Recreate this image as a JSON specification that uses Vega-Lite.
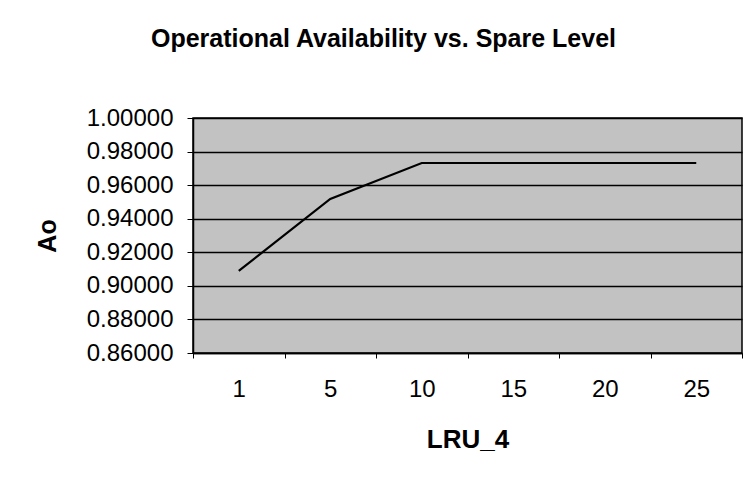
{
  "$schema": "https://vega.github.io/schema/vega-lite/v6.json",
  "autosize": "none",
  "width": 549,
  "height": 235,
  "padding": {"left": 193, "top": 118, "right": 5, "bottom": 126},
  "background": "white",
  "title": {
    "text": "Operational Availability vs. Spare Level",
    "font": "Liberation Sans",
    "fontSize": 25,
    "fontWeight": "bold",
    "color": "black",
    "anchor": "middle",
    "dx": -84,
    "offset": 54
  },
  "data": {
    "values": [
      {"LRU_4": "1", "Ao": 0.9089},
      {"LRU_4": "5", "Ao": 0.9518},
      {"LRU_4": "10", "Ao": 0.9732},
      {"LRU_4": "15", "Ao": 0.9732},
      {"LRU_4": "20", "Ao": 0.9732},
      {"LRU_4": "25", "Ao": 0.9732}
    ]
  },
  "mark": {"type": "line", "color": "black", "strokeWidth": 2.2},
  "encoding": {
    "x": {
      "field": "LRU_4",
      "type": "ordinal",
      "sort": null,
      "scale": {"paddingInner": 0, "paddingOuter": 0},
      "axis": {
        "title": "LRU_4",
        "labelAngle": 0,
        "labelFont": "Liberation Sans",
        "labelFontSize": 24,
        "labelColor": "black",
        "labelPadding": 19,
        "titleFont": "Liberation Sans",
        "titleFontSize": 26,
        "titleFontWeight": "bold",
        "titleColor": "black",
        "titlePadding": 25,
        "tickBand": "extent",
        "tickColor": "black",
        "tickSize": 5,
        "domainColor": "black",
        "domainWidth": 1.5,
        "grid": false
      }
    },
    "y": {
      "field": "Ao",
      "type": "quantitative",
      "scale": {"domain": [0.86, 1.0], "zero": false, "nice": false},
      "axis": {
        "title": "Ao",
        "values": [0.86, 0.88, 0.9, 0.92, 0.94, 0.96, 0.98, 1.0],
        "format": ".5f",
        "labelFont": "Liberation Sans",
        "labelFontSize": 24,
        "labelColor": "black",
        "labelPadding": 14,
        "titleFont": "Liberation Sans",
        "titleFontSize": 25,
        "titleFontWeight": "bold",
        "titleColor": "black",
        "titlePadding": 26,
        "tickColor": "black",
        "tickSize": 6,
        "domainColor": "black",
        "domainWidth": 1.5,
        "grid": true,
        "gridColor": "black",
        "gridWidth": 1.5,
        "gridOpacity": 1
      }
    }
  },
  "config": {
    "view": {"fill": "#c2c2c2", "stroke": "black", "strokeWidth": 1.5}
  }
}
